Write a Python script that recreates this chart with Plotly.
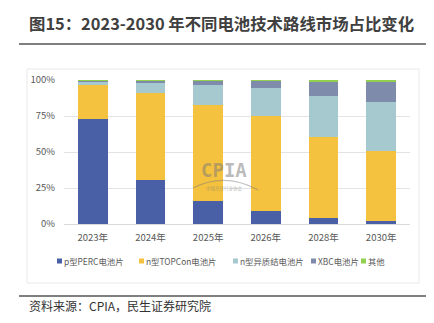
import plotly.graph_objects as go

categories = ["2023年", "2024年", "2025年", "2026年", "2028年", "2030年"]
series_names = ["p型PERC电池片", "n型TOPCon电池片", "n型异质结电池片", "XBC电池片", "其他"]
perc = [73.0, 30.6, 16.0, 9.2, 4.4, 1.8]
topcon = [23.3, 60.4, 66.6, 65.5, 56.0, 48.6]
hjt = [2.4, 6.6, 14.1, 19.5, 28.7, 34.3]
xbc = [0.7, 1.9, 2.8, 5.3, 9.7, 13.6]
other = [0.6, 0.5, 0.5, 0.5, 1.2, 1.7]
y_ticks = [0, 25, 50, 75, 100]
y_tick_labels = ["0%", "25%", "50%", "75%", "100%"]

colors = ["#4a60a6", "#f4c23f", "#a6c8cf", "#7f8bab", "#92d050"]
series_values = [perc, topcon, hjt, xbc, other]

W, H = 434, 323
ML, MR, MT, MB = 64, 24, 80, 99
PW, PH = W - ML - MR, H - MT - MB


def px(x):
    return (x - ML) / PW


def py(y):
    return (H - MB - y) / PH


FONT = "Noto Sans CJK SC, Microsoft YaHei, sans-serif"

fig = go.Figure()
for name, vals, col in zip(series_names, series_values, colors):
    fig.add_trace(go.Bar(x=categories, y=vals, name=name, marker=dict(color=col, line=dict(width=0)),
                         showlegend=False))

shapes = []
annotations = []

# outer light frame
shapes.append(dict(type="rect", xref="paper", yref="paper", x0=px(27), x1=px(419), y0=py(69), y1=py(283),
                   line=dict(color="#e8e8e8", width=1), layer="below"))
# title separator lines
for yy in (44, 296):
    shapes.append(dict(type="line", xref="paper", yref="paper", x0=px(19), x1=px(426), y0=py(yy), y1=py(yy),
                       line=dict(color="#555555", width=1.5)))

# title
annotations.append(dict(text="<b>图15：2023-2030 年不同电池技术路线市场占比变化</b>", xref="paper", yref="paper",
                        x=px(27), y=py(23), xanchor="left", yanchor="middle", showarrow=False,
                        font=dict(family=FONT, size=16.4, color="#404040")))
# source
annotations.append(dict(text="资料来源：CPIA，民生证券研究院", xref="paper", yref="paper",
                        x=px(27), y=py(305), xanchor="left", yanchor="middle", showarrow=False,
                        font=dict(family=FONT, size=12, color="#333333")))

# legend (built from series names / colors)
legend_x = [57, 139, 233, 311, 361]
for lx, name, col in zip(legend_x, series_names, colors):
    shapes.append(dict(type="rect", xref="paper", yref="paper", x0=px(lx), x1=px(lx + 5),
                       y0=py(263.5), y1=py(258.5), fillcolor=col, line=dict(width=0)))
    annotations.append(dict(text=name, xref="paper", yref="paper", x=px(lx + 5), y=py(261),
                            xanchor="left", yanchor="middle", showarrow=False,
                            font=dict(family=FONT, size=8.4, color="#595959")))

# watermark
annotations.append(dict(text="<b>CPIA</b>", xref="paper", yref="paper", x=px(224), y=py(170),
                        xanchor="center", yanchor="middle", showarrow=False,
                        font=dict(family="DejaVu Sans Mono, monospace", size=19, color="rgba(120,120,120,0.5)")))
annotations.append(dict(text="中国光伏行业协会", xref="paper", yref="paper", x=px(224), y=py(188),
                        xanchor="center", yanchor="middle", showarrow=False,
                        font=dict(family=FONT, size=4.5, color="rgba(120,120,120,0.55)")))
shapes.append(dict(type="path", xref="paper", yref="paper",
                   path=f"M {px(193)} {py(188)} Q {px(225)} {py(172)} {px(258)} {py(190)}",
                   line=dict(color="rgba(120,120,120,0.45)", width=1.2)))

fig.update_layout(
    barmode="stack",
    bargap=0.48,
    width=W, height=H,
    margin=dict(l=ML, r=MR, t=MT, b=MB, pad=0),
    paper_bgcolor="white",
    plot_bgcolor="white",
    font=dict(family=FONT, size=9, color="#595959"),
    shapes=shapes,
    annotations=annotations,
    xaxis=dict(showgrid=False, showline=False, ticks="", tickfont=dict(size=9.5, color="#595959"),
               ticklabelstandoff=6),
    yaxis=dict(range=[0, 100], tickmode="array", tickvals=y_ticks, ticktext=y_tick_labels,
               showgrid=True, gridcolor="#e3e3e3",
               gridwidth=1, zeroline=True, zerolinecolor="#d9d9d9", zerolinewidth=1, showline=False,
               ticks="", tickfont=dict(size=9.5, color="#595959"), ticklabelstandoff=8),
)

fig.write_html("out.html")
